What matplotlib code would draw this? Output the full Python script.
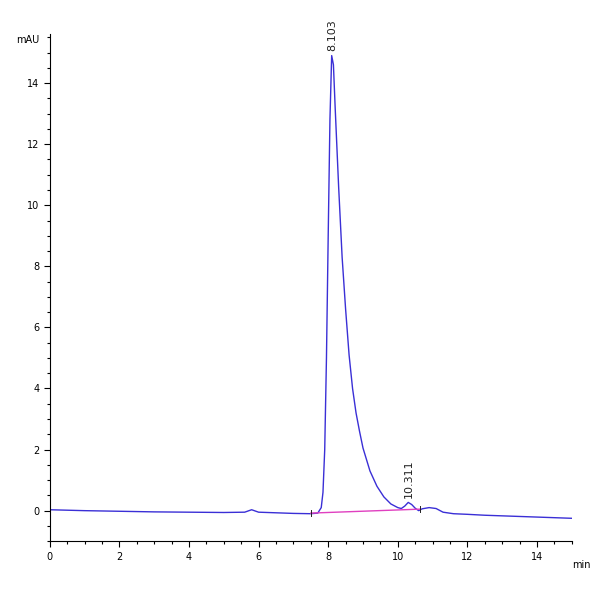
import matplotlib
matplotlib.use("Agg")
import matplotlib.pyplot as plt
from matplotlib.ticker import MultipleLocator

t = [0, 1, 2, 3, 4, 5, 5.6, 5.8, 6.0, 6.5, 7.0, 7.5, 7.7, 7.8, 7.85, 7.9, 7.95, 8.0, 8.05, 8.1, 8.15, 8.2, 8.3,
     8.4, 8.5, 8.6, 8.7, 8.8, 8.9, 9.0, 9.2, 9.4, 9.6, 9.8, 10.0, 10.1, 10.2, 10.3, 10.4, 10.5, 10.6,
     10.7, 10.9, 11.1, 11.3, 11.6, 12.0, 12.5, 13.0, 14.0, 15.0]
sig = [0.03, 0.0, -0.02, -0.04, -0.05, -0.06, -0.05, 0.03, -0.05, -0.07, -0.09, -0.1, -0.08, 0.1, 0.6, 2.0, 5.0, 9.0, 12.8, 14.9, 14.6, 13.2, 10.6,
       8.3, 6.6, 5.1, 4.0, 3.2, 2.6, 2.05, 1.3, 0.8, 0.45, 0.22, 0.1, 0.07, 0.15, 0.27, 0.2, 0.08, 0.0,
       0.06, 0.1, 0.07, -0.05, -0.1, -0.12, -0.15, -0.17, -0.21, -0.25]
base_t = [7.5, 10.65]
base_y = [-0.08, 0.05]
peak_rt = [8.103, 10.311]
peak_h = [14.9, 0.27]
peak_lbl = ["8.103", "10.311"]

fig = plt.figure(figsize=(6, 6), dpi=100)
ax = fig.add_axes([0.083, 0.098, 0.87, 0.845])
ax.plot(t, sig, color="#3a2fd6", lw=1.0)
ax.plot(base_t, base_y, color="#e040c0", lw=1.0)
for x, y in zip(base_t, base_y):
    ax.plot([x, x], [y - 0.1, y + 0.1], color="#222", lw=0.7)
for x, h, s in zip(peak_rt, peak_h, peak_lbl):
    ax.text(x, h + 0.15, s, rotation=90, ha="center", va="bottom", fontsize=8, color="#222")
ax.set_xlim(0, 15)
ax.set_ylim(-1.0, 15.6)
ax.xaxis.set_major_locator(MultipleLocator(2))
ax.xaxis.set_minor_locator(MultipleLocator(0.5))
ax.yaxis.set_major_locator(MultipleLocator(2))
ax.yaxis.set_minor_locator(MultipleLocator(0.5))
for sp in ["top", "right"]:
    ax.spines[sp].set_visible(False)
ax.tick_params(labelsize=7, length=4, width=0.8)
ax.tick_params(which="minor", length=2.5, width=0.8)
ax.text(-0.3, 15.4, "mAU", fontsize=7, ha="right", va="center")
ax.text(15.0, -1.6, "min", fontsize=7, ha="left", va="top")
fig.savefig("out.png", dpi=100, facecolor="white")
